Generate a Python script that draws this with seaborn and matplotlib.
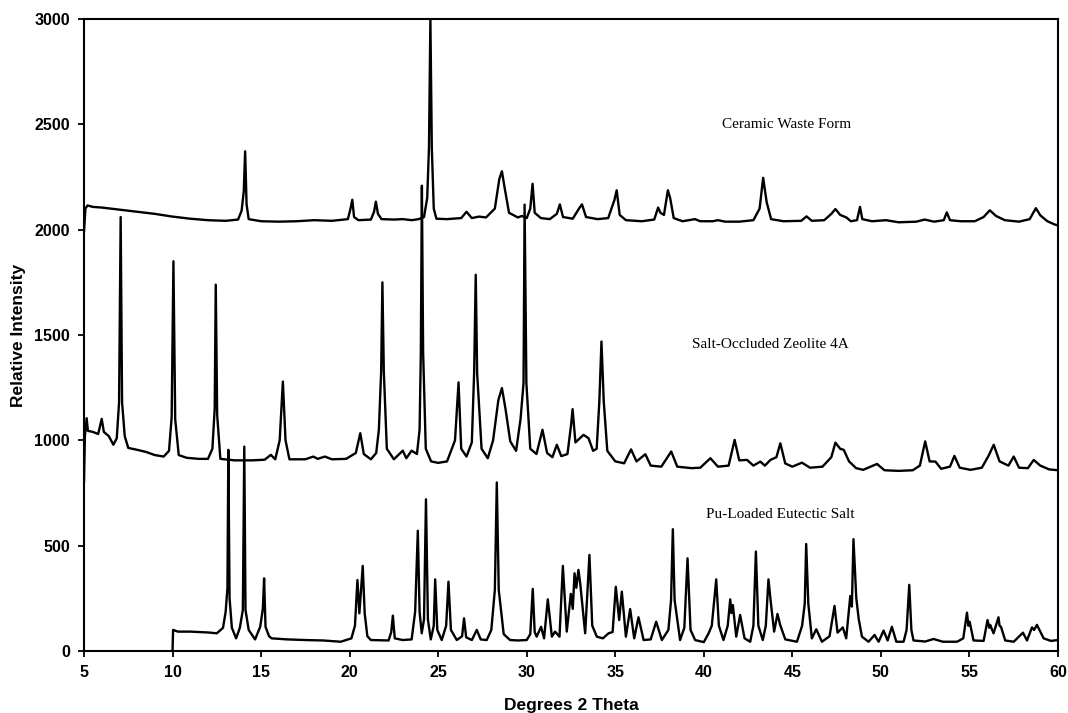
import matplotlib
matplotlib.use("Agg")
import matplotlib.pyplot as plt
import pandas as pd
import seaborn as sns

# Constants
LINE_WIDTH = 1.7
LINE_COLOR = "black"
SANS = "Liberation Sans"
SERIF = "Liberation Serif"

# Ceramic Waste Form (vertices)
ceramic_x = [5.0, 5.08, 5.2, 5.5, 6.0, 7.0, 8.0, 9.0, 10.0, 11.0, 12.0, 13.0, 13.7, 13.9, 14.02, 14.1,
             14.18, 14.3, 15.0, 16.0, 17.0, 18.0, 19.0, 19.9, 20.05, 20.15, 20.25, 20.5, 21.2, 21.38,
             21.48, 21.6, 21.8, 22.5, 23.0, 23.5, 23.9, 24.2, 24.38, 24.48, 24.56, 24.64, 24.75, 24.9,
             25.5, 26.3, 26.6, 26.9, 27.3, 27.7, 28.2, 28.45, 28.6, 28.75, 29.0, 29.5, 29.73, 30.0,
             30.2, 30.33, 30.45, 30.8, 31.3, 31.7, 31.87, 32.05, 32.6, 32.95, 33.12, 33.35, 34.0,
             34.6, 34.95, 35.08, 35.25, 35.6, 36.5, 37.2, 37.42, 37.55, 37.75, 37.97, 38.1, 38.3,
             38.8, 39.5, 39.8, 40.5, 40.8, 41.2, 42.0, 42.8, 43.15, 43.35, 43.55, 43.8, 44.5, 45.5,
             45.8, 46.1, 46.8, 47.2, 47.43, 47.7, 48.05, 48.3, 48.65, 48.82, 48.95, 49.5, 50.29,
             51.0, 52.0, 52.47, 53.0, 53.55, 53.72, 53.9, 54.5, 55.3, 55.8, 56.15, 56.5, 57.0, 57.8,
             58.4, 58.75, 59.0, 59.4, 59.8, 60.0]
ceramic_y = [1990, 2100, 2115, 2108, 2105, 2095, 2085, 2075, 2062, 2052, 2045, 2042, 2048, 2090, 2180, 2372,
             2120, 2050, 2040, 2038, 2040, 2045, 2042, 2050, 2100, 2142, 2060, 2045, 2048, 2085,
             2133, 2075, 2050, 2048, 2050, 2045, 2050, 2060, 2150, 2390, 3000, 2390, 2100, 2052,
             2050, 2055, 2085, 2055, 2062, 2058, 2100, 2240, 2277, 2200, 2080, 2058, 2065, 2055,
             2100, 2218, 2080, 2055, 2050, 2075, 2120, 2060, 2052, 2100, 2120, 2060, 2050,
             2055, 2140, 2187, 2070, 2045, 2040, 2048, 2105, 2080, 2070, 2187, 2150, 2055,
             2040, 2050, 2040, 2040, 2045, 2038, 2038, 2045, 2100, 2246, 2130, 2050, 2040, 2042,
             2063, 2042, 2045, 2075, 2098, 2070, 2058, 2040, 2045, 2108, 2050, 2040, 2045,
             2035, 2038, 2048, 2038, 2045, 2082, 2045, 2040, 2040, 2060, 2092, 2065, 2045, 2038,
             2050, 2102, 2068, 2040, 2025, 2020]

# Salt-Occluded Zeolite 4A
zeolite_x = [5.0, 5.05, 5.15, 5.22, 5.5, 5.8, 6.0, 6.12, 6.4, 6.66, 6.85, 6.98, 7.07, 7.15, 7.3, 7.5,
             8.0, 8.5, 9.0, 9.5, 9.8, 9.95, 10.05, 10.15, 10.35, 10.8, 11.5, 12.0, 12.25, 12.38,
             12.44, 12.52, 12.7, 13.5, 14.5, 15.2, 15.55, 15.8, 16.05, 16.23, 16.38, 16.6, 17.5,
             17.95, 18.2, 18.6, 19.0, 19.8, 20.35, 20.6, 20.8, 21.2, 21.5, 21.65, 21.78, 21.85,
             21.93, 22.1, 22.5, 23.0, 23.2, 23.5, 23.8, 23.95, 24.02, 24.08, 24.15, 24.3, 24.6,
             25.0, 25.5, 25.95, 26.15, 26.3, 26.6, 26.9, 27.03, 27.12, 27.2, 27.45, 27.8, 28.1,
             28.4, 28.6, 28.8, 29.07, 29.4, 29.65, 29.82, 29.88, 29.98, 30.2, 30.55, 30.89, 31.15,
             31.45, 31.7, 31.95, 32.3, 32.5, 32.59, 32.75, 33.0, 33.21, 33.49, 33.75, 33.95, 34.1,
             34.22, 34.35, 34.55, 35.0, 35.5, 35.89, 36.2, 36.7, 37.0, 37.6, 38.16, 38.5, 39.3,
             39.8, 40.37, 40.8, 41.4, 41.74, 42.0, 42.44, 42.8, 43.19, 43.45, 43.76, 44.1, 44.32,
             44.6, 45.0, 45.54, 46.0, 46.7, 47.2, 47.43, 47.7, 47.9, 48.2, 48.6, 49.0, 49.78, 50.2,
             51.0, 51.8, 52.2, 52.5, 52.75, 53.08, 53.4, 53.9, 54.15, 54.45, 55.06, 55.7, 56.1,
             56.37, 56.7, 57.2, 57.5, 57.8, 58.3, 58.63, 59.0, 59.5, 60.0]
zeolite_y = [800, 1020, 1105, 1045, 1040, 1030, 1102, 1040, 1020, 979, 1010, 1180, 2060, 1180, 1020, 964,
             955, 945, 930, 923, 950, 1110, 1850, 1100, 930, 917, 912, 912, 960, 1150,
             1739, 1120, 912, 905, 905, 908, 931, 910, 1000, 1279, 1000, 910, 910,
             923, 912, 923, 910, 912, 940, 1034, 935, 910, 940, 1050, 1327, 1750,
             1327, 960, 910, 951, 915, 951, 935, 1050, 1415, 2209, 1415, 960, 900,
             893, 900, 1000, 1275, 960, 923, 990, 1320, 1786, 1320, 960, 915, 1000,
             1192, 1248, 1150, 995, 950, 1100, 1273, 2119, 1273, 960, 935, 1050, 940,
             920, 979, 925, 935, 1070, 1148, 990, 1010, 1026, 1010, 950, 960, 1184,
             1469, 1184, 950, 900, 891, 957, 900, 934, 880, 875, 947, 875, 868,
             870, 915, 875, 880, 1002, 905, 907, 880, 899, 880, 907, 920, 986,
             890, 875, 894, 870, 875, 920, 989, 960, 955, 900, 868, 860, 888, 858,
             855, 858, 880, 995, 900, 899, 865, 875, 926, 870, 860, 870, 930,
             979, 900, 880, 923, 870, 868, 907, 880, 862, 858]

# Pu-Loaded Eutectic Salt
pu_x = [10.0, 10.03, 10.3, 11.0, 11.5, 12.0, 12.5, 12.85, 13.0, 13.1, 13.15, 13.22, 13.35, 13.59, 13.8,
        13.97, 14.05, 14.12, 14.3, 14.66, 14.95, 15.1, 15.17, 15.25, 15.45, 15.6, 16.5, 17.5, 18.5,
        19.5, 20.1, 20.3, 20.44, 20.55, 20.74, 20.85, 21.0, 21.2, 22.2, 22.35, 22.44, 22.55, 23.0,
        23.5, 23.7, 23.85, 23.95, 24.07, 24.2, 24.31, 24.42, 24.58, 24.75, 24.83, 24.95, 25.2,
        25.45, 25.58, 25.72, 26.05, 26.35, 26.46, 26.58, 26.9, 27.18, 27.4, 27.74, 28.0, 28.2,
        28.31, 28.42, 28.7, 29.06, 29.5, 30.0, 30.2, 30.34, 30.45, 30.56, 30.81, 30.98, 31.19,
        31.42, 31.6, 31.85, 32.04, 32.26, 32.49, 32.6, 32.7, 32.8, 32.92, 33.02, 33.3, 33.54,
        33.7, 33.96, 34.3, 34.62, 34.85, 35.03, 35.22, 35.37, 35.6, 35.84, 36.07, 36.31, 36.6,
        37.0, 37.31, 37.63, 38.0, 38.15, 38.25, 38.35, 38.66, 38.9, 39.08, 39.25, 39.51, 40.0,
        40.27, 40.45, 40.7, 40.85, 41.11, 41.35, 41.49, 41.56, 41.64, 41.83, 42.05, 42.3, 42.62,
        42.8, 42.94, 43.08, 43.33, 43.5, 43.65, 43.79, 43.97, 44.16, 44.31, 44.6, 45.26, 45.55,
        45.7, 45.78, 45.9, 46.1, 46.35, 46.67, 47.1, 47.38, 47.55, 47.85, 48.04, 48.27, 48.36,
        48.45, 48.61, 48.75, 48.93, 49.3, 49.64, 49.87, 50.15, 50.38, 50.62, 50.87, 51.28, 51.45,
        51.6, 51.72, 51.84, 52.5, 52.97, 53.5, 54.3, 54.65, 54.86, 54.94, 55.01, 55.23, 55.8,
        56.02, 56.12, 56.17, 56.36, 56.64, 56.7, 56.78, 57.02, 57.5, 58.02, 58.25, 58.53, 58.65,
        58.81, 59.19, 59.6, 60.0]
pu_y = [0, 100, 92, 92, 90, 88, 84, 110, 187, 300, 955, 250, 110, 60, 110,
        195, 970, 195, 100, 55, 115, 200, 345, 115, 70, 60, 55, 52, 50,
        44, 60, 120, 337, 179, 404, 179, 70, 52, 50, 90, 168, 60, 52,
        55, 187, 571, 187, 84, 150, 720, 150, 55, 120, 340, 100, 52,
        120, 329, 100, 52, 70, 155, 65, 52, 100, 55, 52, 100, 290,
        800, 290, 80, 52, 50, 52, 80, 295, 90, 68, 115, 60, 245,
        68, 92, 68, 404, 92, 271, 200, 369, 300, 385, 321, 84, 456,
        120, 68, 60, 84, 90, 305, 147, 282, 68, 199, 60, 160, 52,
        55, 139, 52, 100, 242, 578, 242, 52, 110, 440, 100, 52, 42,
        84, 120, 340, 120, 52, 120, 245, 180, 218, 68, 171, 60, 44,
        120, 472, 120, 52, 120, 340, 226, 92, 176, 124, 55, 44, 120,
        226, 508, 226, 60, 103, 44, 70, 214, 87, 112, 60, 261, 211,
        531, 250, 150, 68, 44, 76, 44, 97, 50, 115, 44, 44, 100,
        314, 100, 50, 45, 57, 44, 44, 60, 182, 120, 139, 50, 48,
        147, 110, 124, 84, 160, 120, 115, 50, 44, 87, 50, 112, 100,
        124, 60, 48, 52]

labels = ["Ceramic Waste Form", "Salt-Occluded Zeolite 4A", "Pu-Loaded Eutectic Salt"]
label_x = [41.0, 39.33, 40.13]
label_y = [2499, 1454, 646]

x_ticks = [5, 10, 15, 20, 25, 30, 35, 40, 45, 50, 55, 60]
y_ticks = [0, 500, 1000, 1500, 2000, 2500, 3000]

sns.set_theme(style="ticks")
plt.rcParams["font.family"] = [SANS, "DejaVu Sans"]

fig = plt.figure(figsize=(10.68, 7.13), dpi=100)
ax = fig.add_axes([84 / 1068, 62 / 713, 974 / 1068, 632 / 713])

for xs, ys in [(ceramic_x, ceramic_y), (zeolite_x, zeolite_y), (pu_x, pu_y)]:
    df = pd.DataFrame({"theta": xs, "intensity": ys})
    sns.lineplot(data=df, x="theta", y="intensity", sort=False, estimator=None,
                 color=LINE_COLOR, linewidth=LINE_WIDTH, ax=ax)

for txt, lx, ly in zip(labels, label_x, label_y):
    ax.text(lx, ly, txt, fontsize=11, family=SERIF, va="center", ha="left", color="black")

ax.set_xlim(5, 60)
ax.set_ylim(0, 3000)
ax.set_xticks(x_ticks)
ax.set_yticks(y_ticks)
ax.tick_params(axis="both", direction="out", length=4, width=1.3, color="black",
               labelsize=11.5, pad=6, labelcolor="black")
for lab in ax.get_xticklabels() + ax.get_yticklabels():
    lab.set_fontweight("bold")

for side in ["left", "right", "top", "bottom"]:
    ax.spines[side].set_visible(True)
    ax.spines[side].set_color("black")
    ax.spines[side].set_linewidth(1.5)

ax.set_xlabel("Degrees 2 Theta", fontsize=12.5, fontweight="bold", color="black")
ax.set_ylabel("Relative Intensity", fontsize=12.5, fontweight="bold", color="black")
ax.xaxis.set_label_coords(0.5, -0.074)
ax.yaxis.set_label_coords(-0.06, 0.5)

fig.savefig("out.png", dpi=100, facecolor="white")
